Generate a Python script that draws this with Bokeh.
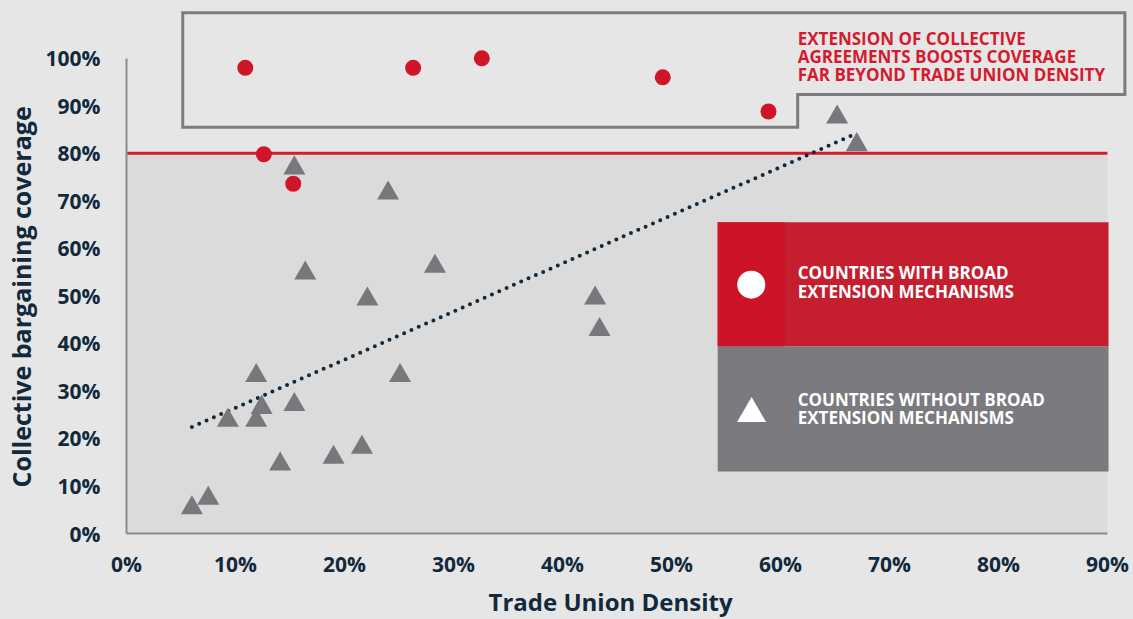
from bokeh.plotting import figure
from bokeh.models import Range1d, FixedTicker, Title
from bokeh.core.properties import value
from bokeh.embed import file_html
from bokeh.resources import INLINE

# ---------------- data ----------------
with_ext_density = [10.9, 26.3, 32.6, 49.2, 58.9, 12.6, 15.3]
with_ext_coverage = [98.0, 98.0, 100.0, 96.0, 88.8, 79.8, 73.6]

without_ext_density = [65.2, 67.0, 15.4, 24.0, 16.4, 28.3, 22.1, 43.0, 43.4, 11.9,
                       25.1, 15.4, 12.4, 9.3, 11.9, 14.1, 19.0, 21.6, 6.0, 7.5]
without_ext_coverage = [87.6, 81.8, 76.9, 71.6, 54.8, 56.2, 49.3, 49.5, 42.9, 33.2,
                        33.2, 27.1, 26.5, 23.8, 23.8, 14.6, 16.0, 18.1, 5.4, 7.4]

trend_density = [6.0, 66.8]
trend_coverage = [22.4, 84.0]

threshold = 80

x_ticks = [0, 10, 20, 30, 40, 50, 60, 70, 80, 90]
x_tick_labels = ["0%", "10%", "20%", "30%", "40%", "50%", "60%", "70%", "80%", "90%"]
y_ticks = [0, 10, 20, 30, 40, 50, 60, 70, 80, 90, 100]
y_tick_labels = ["0%", "10%", "20%", "30%", "40%", "50%", "60%", "70%", "80%", "90%", "100%"]

x_title = "Trade Union Density"
y_title = "Collective bargaining coverage"
callout_lines = ["EXTENSION OF COLLECTIVE",
                 "AGREEMENTS BOOSTS COVERAGE",
                 "FAR BEYOND TRADE UNION DENSITY"]
legend_red_lines = ["COUNTRIES WITH BROAD", "EXTENSION MECHANISMS"]
legend_gray_lines = ["COUNTRIES WITHOUT BROAD", "EXTENSION MECHANISMS"]

# ---------------- styles ----------------
BG = "#e6e6e6"
SHADE = "#dbdbdb"
RED = "#cf1528"
RED_LINE = "#d41b2e"
GRAY = "#77777c"
BOX_GRAY = "#7c7c80"
AXIS_GRAY = "#8c8c90"
NAVY = "#12293b"
LEG_RED = "#c41e2f"
LEG_RED2 = "#cd1326"
LEG_GRAY = "#7a7a7f"
FONT = "Open Sans"

W, H = 1133, 619
p = figure(width=W, height=H, output_backend="svg", toolbar_location=None,
           x_range=Range1d(0, 92.39), y_range=Range1d(0, 112.16),
           min_border_left=126, min_border_right=0, min_border_top=0,
           min_border_bottom=84,
           background_fill_color=BG, border_fill_color=BG,
           outline_line_color=None)
p.grid.visible = False

# shaded region below threshold and threshold line
p.quad(left=[x_ticks[0]], right=[x_ticks[-1]], bottom=[y_ticks[0]], top=[threshold],
       fill_color=SHADE, line_color=None)
p.segment(x0=[x_ticks[0]], x1=[x_ticks[-1]], y0=[threshold], y1=[threshold],
          line_color=RED_LINE, line_width=3)

# callout box
box_x = [5.16, 91.6, 91.6, 61.58, 61.58, 5.16]
box_y = [109.6, 109.6, 92.4, 92.4, 85.5, 85.5]
p.patch(box_x, box_y, fill_color=None, line_color=BOX_GRAY, line_width=3,
        line_join="miter")

# trend line
p.line(trend_density, trend_coverage, line_color=NAVY, line_width=4,
       line_dash="0 8", line_cap="round")

# points
p.scatter(without_ext_density, without_ext_coverage, marker="triangle", size=22,
          fill_color=GRAY, line_color=None)
p.scatter(with_ext_density, with_ext_coverage, marker="circle", size=16,
          fill_color=RED, line_color=None)

# callout text
p.text(x=[61.58] * 3, y=[104.2, 100.4, 96.6], text=callout_lines,
       text_font=value(FONT), text_font_style="bold", text_font_size="17px",
       text_color=RED_LINE, text_align="left", text_baseline="middle")

# legend panels
p.quad(left=[54.24, 54.24, 54.24], right=[90.1, 60.4, 90.1],
       bottom=[39.35, 39.35, 13.06], top=[65.5, 65.5, 39.35],
       fill_color=[LEG_RED, LEG_RED2, LEG_GRAY], line_color=None)
p.scatter([57.32], [52.35], marker="circle", size=28, fill_color="white", line_color=None)
p.scatter([57.35], [25.2], marker="triangle", size=29, fill_color="white", line_color=None)
p.text(x=[61.58] * 4, y=[54.9, 51.0, 28.3, 24.5],
       text=legend_red_lines + legend_gray_lines,
       text_font=value(FONT), text_font_style="bold", text_font_size="17px",
       text_color="white", text_align="left", text_baseline="middle")

# axes
xa = p.xaxis[0]
xa.ticker = FixedTicker(ticks=x_ticks)
xa.major_label_overrides = dict(zip(x_ticks, x_tick_labels))
xa.bounds = (x_ticks[0], x_ticks[-1])
ya = p.yaxis[0]
ya.ticker = FixedTicker(ticks=y_ticks)
ya.major_label_overrides = dict(zip(y_ticks, y_tick_labels))
ya.bounds = (y_ticks[0], y_ticks[-1])
for ax in (xa, ya):
    ax.axis_line_color = AXIS_GRAY
    ax.axis_line_width = 2
    ax.major_tick_line_color = None
    ax.minor_tick_line_color = None
    ax.major_tick_out = 0
    ax.major_tick_in = 0
    ax.major_label_text_font = FONT
    ax.major_label_text_font_style = "bold"
    ax.major_label_text_font_size = "21px"
    ax.major_label_text_color = NAVY
xa.major_label_standoff = 16
ya.major_label_standoff = 26

# axis titles
p.add_layout(Title(text=x_title, align="left", offset=362, standoff=4,
                   vertical_align="bottom", text_font=FONT, text_font_style="bold",
                   text_font_size="24px", text_color=NAVY), "below")
p.add_layout(Title(text=y_title, align="left", offset=46, standoff=6,
                   vertical_align="top", text_font=FONT, text_font_style="bold",
                   text_font_size="25px", text_color=NAVY), "left")

TEMPLATE = """{% block postamble %}<style>html, body { background: #e6e6e6; }</style>{% endblock %}"""
open("out.html", "w").write(file_html(p, INLINE, template=TEMPLATE))
